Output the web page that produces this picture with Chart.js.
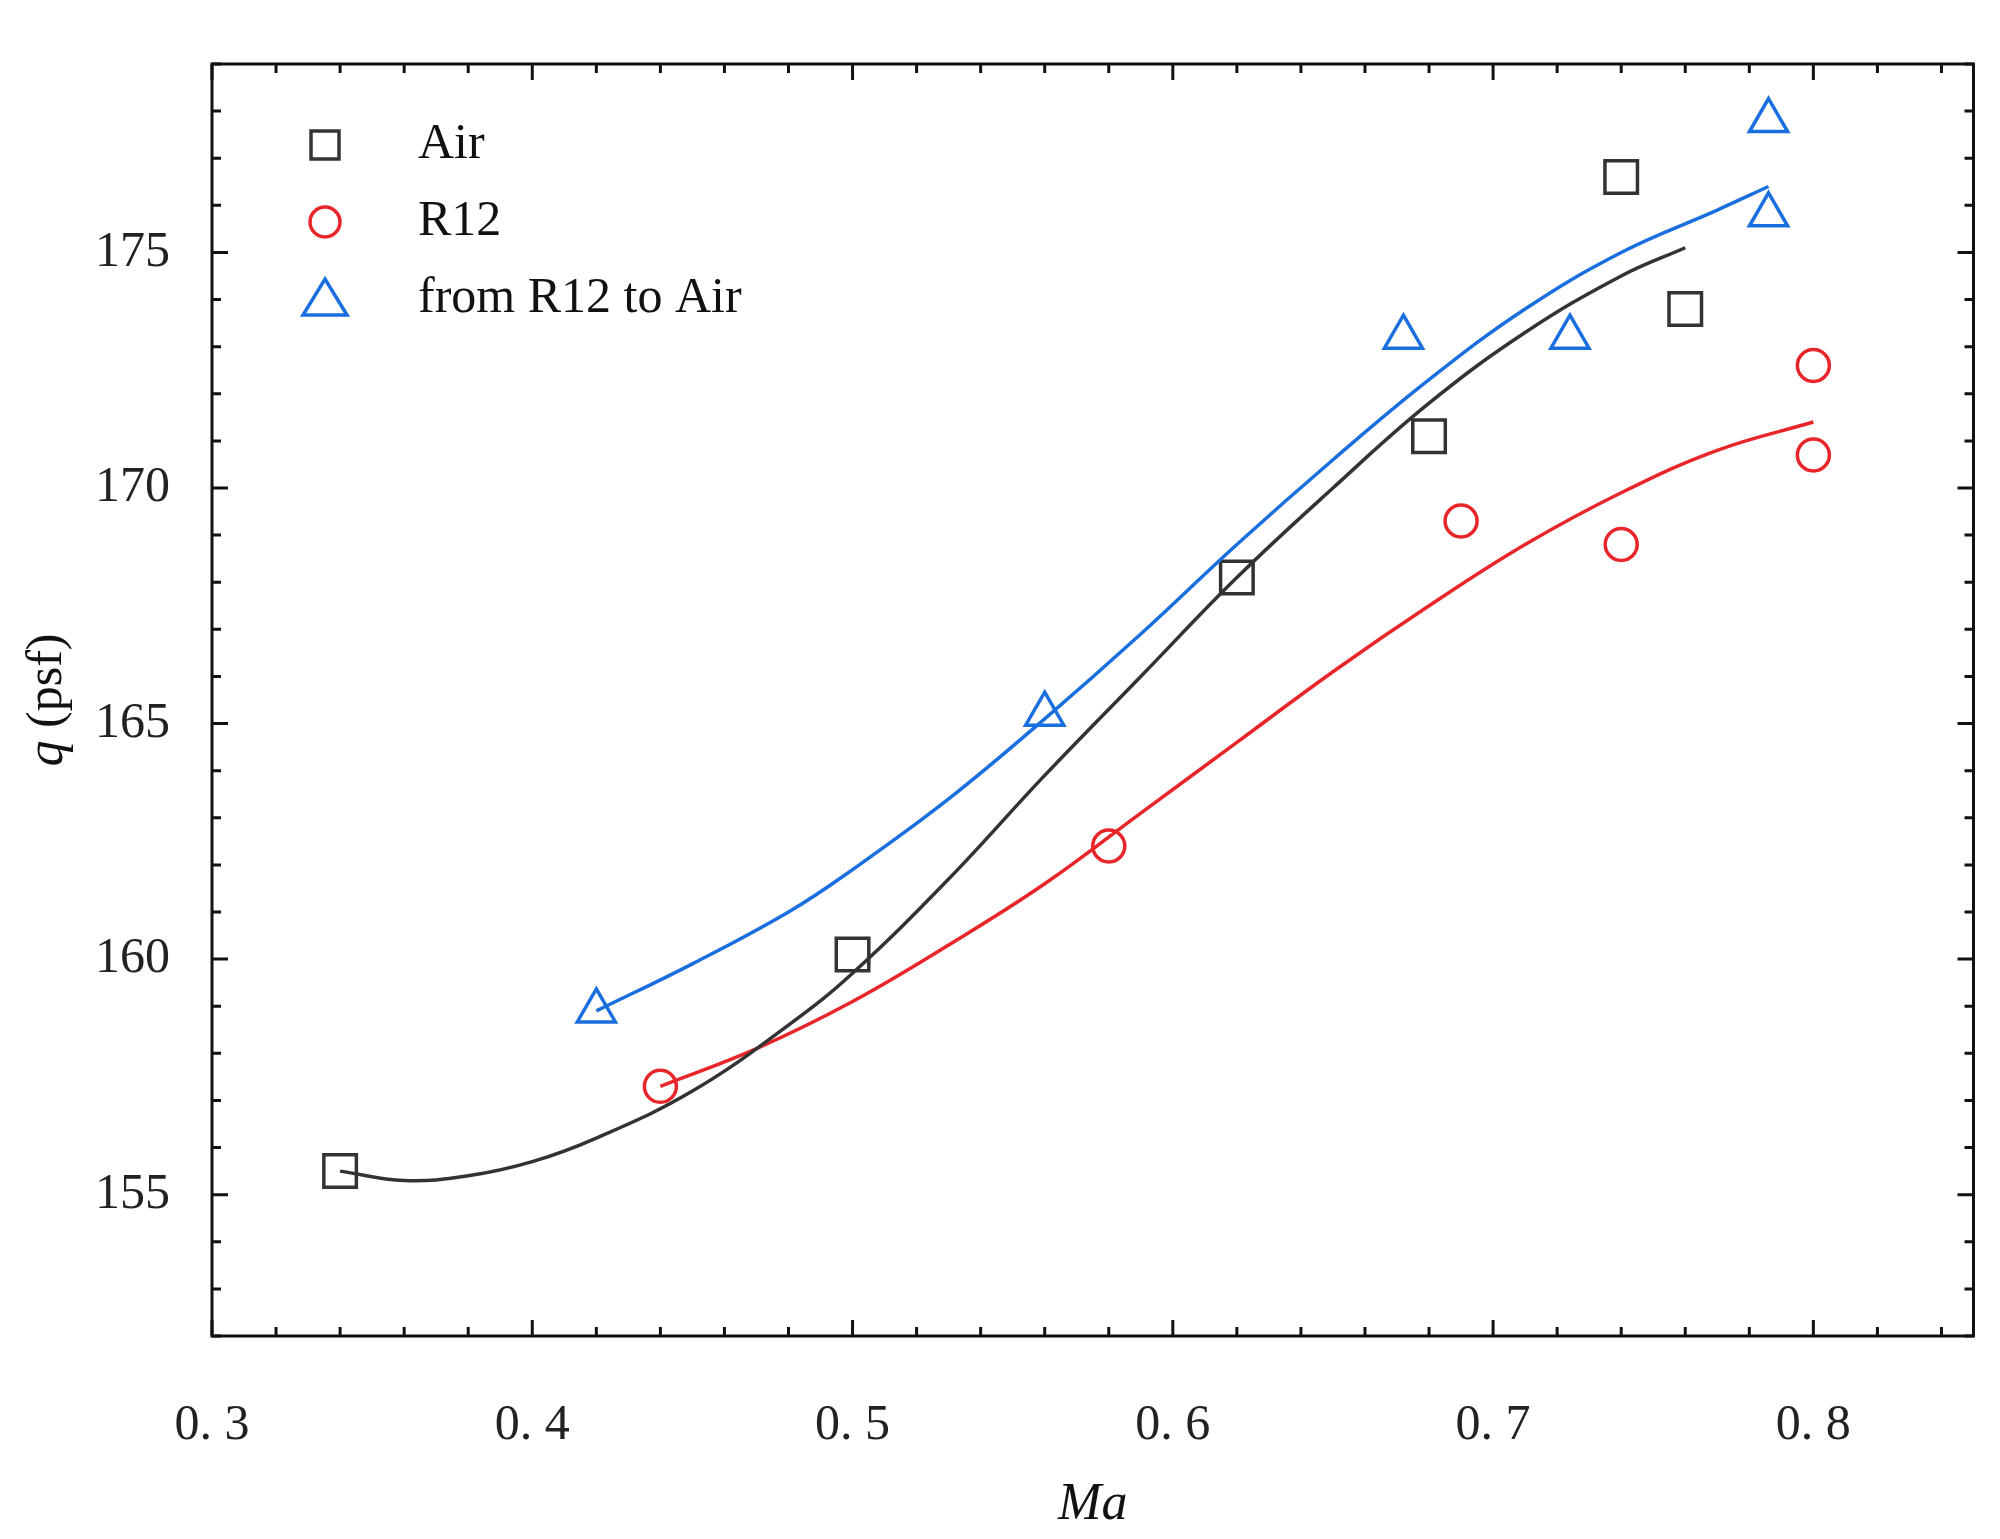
<!DOCTYPE html>
<html><head><meta charset="utf-8">
<script src="https://cdn.jsdelivr.net/npm/chart.js@4"></script>
<style>html,body{margin:0;background:#fff}#w{width:2000px;height:1539px}</style>
</head><body><div id="w"><canvas id="c"></canvas></div>
<script>
const airX=[0.34,0.5,0.62,0.68,0.74,0.76];
const airY=[155.5,160.1,168.1,171.1,176.6,173.8];
const r12X=[0.44,0.58,0.69,0.74,0.80,0.80];
const r12Y=[157.3,162.4,169.3,168.8,172.6,170.7];
const mixX=[0.42,0.56,0.672,0.724,0.786,0.786];
const mixY=[158.9,165.2,173.2,173.2,177.8,175.8];
const airFitX=[0.34,0.36,0.38,0.40,0.42,0.45,0.48,0.50,0.53,0.56,0.59,0.62,0.65,0.68,0.71,0.74,0.76];
const airFitY=[155.5,155.3,155.4,155.7,156.2,157.2,158.6,159.7,161.7,163.9,166.0,168.1,170.0,171.8,173.3,174.5,175.1];
const mixFitX=[0.42,0.45,0.48,0.50,0.53,0.56,0.59,0.62,0.65,0.68,0.71,0.74,0.77,0.786];
const mixFitY=[158.9,159.9,161.0,161.9,163.4,165.1,166.9,168.8,170.6,172.3,173.8,175.0,175.9,176.4];
const r12FitX=[0.44,0.47,0.50,0.53,0.56,0.59,0.62,0.65,0.68,0.71,0.74,0.77,0.80];
const r12FitY=[157.3,158.1,159.1,160.3,161.6,163.1,164.6,166.1,167.5,168.8,169.9,170.8,171.4];
const xTicks=[0.3,0.4,0.5,0.6,0.7,0.8];
const yTicks=[155,160,165,170,175];
const legendNames=['Air','R12','from R12 to Air'];
const K='#333333',R='#e8262a',B='#1a6fdf';
const zip=(a,b)=>a.map((v,i)=>({x:v,y:b[i]}));
const FONT='"Liberation Serif", serif';
const pts=(d,st,c,r)=>({data:d,showLine:false,pointStyle:st,pointRadius:r,pointHoverRadius:r,borderColor:c,backgroundColor:'rgba(0,0,0,0)',pointBorderWidth:3.5});
const ln=(d,c)=>({data:d,showLine:true,pointRadius:0,borderColor:c,borderWidth:3.5,tension:0.4});
const deco={id:'deco',afterDraw(ch){
  const c=ch.ctx,xs=ch.scales.x,ys=ch.scales.y,a=ch.chartArea;
  c.save();c.strokeStyle='#111';c.lineWidth=3;
  c.strokeRect(a.left,a.top,a.right-a.left,a.bottom-a.top);
  for(let v=0.3;v<=0.851;v+=0.02){const p=xs.getPixelForValue(v);const maj=Math.abs(v*10-Math.round(v*10))<1e-6;const L=maj?16:9;
    c.beginPath();c.moveTo(p,a.bottom);c.lineTo(p,a.bottom-L);c.moveTo(p,a.top);c.lineTo(p,a.top+L);c.stroke();}
  for(let v=152;v<=179;v++){const p=ys.getPixelForValue(v);const L=v%5===0?16:9;
    c.beginPath();c.moveTo(a.left,p);c.lineTo(a.left+L,p);c.moveTo(a.right,p);c.lineTo(a.right-L,p);c.stroke();}
  c.fillStyle='#111';c.textAlign='center';c.textBaseline='middle';
  c.font='italic 52px '+FONT;c.fillText('Ma',(a.left+a.right)/2,1505);
  c.translate(48,(a.top+a.bottom)/2);c.rotate(-Math.PI/2);
  c.font='italic 52px '+FONT;const w1=c.measureText('q').width;c.font='50px '+FONT;const w2=c.measureText(' (psf)').width;
  c.textAlign='left';c.font='italic 52px '+FONT;c.fillText('q',-(w1+w2)/2,0);c.font='50px '+FONT;c.fillText(' (psf)',-(w1+w2)/2+w1,0);
  c.restore();
  c.save();const cols=[K,R,B];
  c.font='50px '+FONT;c.textBaseline='middle';
  for(let i=0;i<3;i++){const y=145+i*77;
    c.strokeStyle=cols[i];c.lineWidth=3.5;
    c.beginPath();
    if(i===0){c.strokeRect(311,y-14,28,28);}
    else if(i===1){c.arc(325,y,15,0,2*Math.PI);c.stroke();}
    else{c.moveTo(325,y-20);c.lineTo(347,y+16);c.lineTo(303,y+16);c.closePath();c.stroke();}
    c.fillStyle='#111';c.fillText(legendNames[i],418,y);}
  c.restore();
}};
new Chart(document.getElementById('c'),{type:'scatter',
 data:{datasets:[ln(zip(airFitX,airFitY),K),ln(zip(mixFitX,mixFitY),B),ln(zip(r12FitX,r12FitY),R),
  pts(zip(airX,airY),'rect',K,23),pts(zip(r12X,r12Y),'circle',R,16),pts(zip(mixX,mixY),'triangle',B,22)]},
 options:{responsive:true,maintainAspectRatio:false,animation:false,
  layout:{padding:{left:0,top:0,right:22,bottom:0}},
  plugins:{legend:{display:false},tooltip:{enabled:false}},
  scales:{
   x:{type:'linear',min:0.3,max:0.85,grid:{display:false},border:{display:false},
      afterFit(s){s.height=203;},
      afterBuildTicks(s){s.ticks=xTicks.map(v=>({value:v}));},
      ticks:{color:'#222',padding:52,font:{family:FONT,size:50},callback:v=>v.toFixed(1).replace('.','. ')}},
   y:{type:'linear',min:152,max:179,grid:{display:false},border:{display:false},
      afterFit(s){s.width=212;},
      afterBuildTicks(s){s.ticks=yTicks.map(v=>({value:v}));},
      ticks:{color:'#222',padding:34,font:{family:FONT,size:50}}}}},
 plugins:[deco]});
</script></body></html>
